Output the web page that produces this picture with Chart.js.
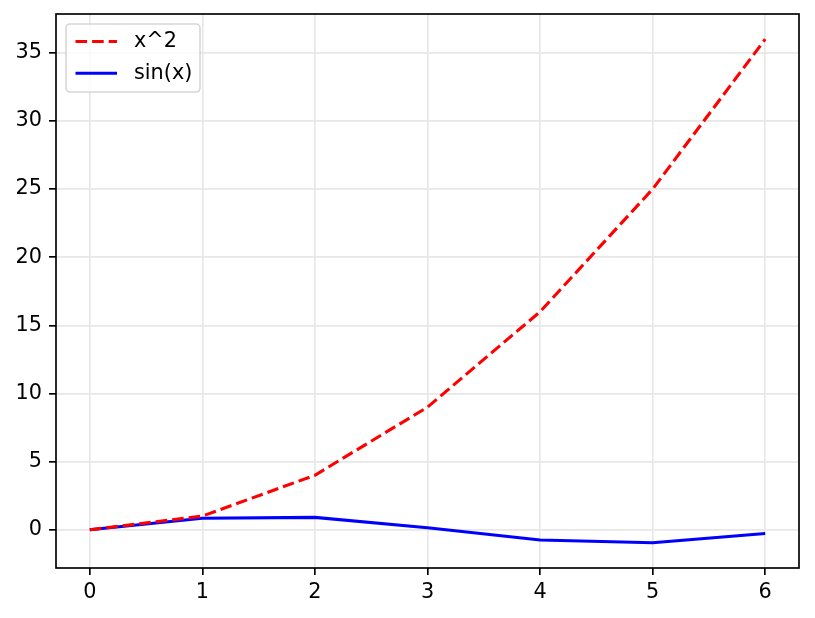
<!DOCTYPE html>
<html>
<head>
<meta charset="utf-8">
<script src="https://cdn.jsdelivr.net/npm/chart.js@4"></script>
<style>
  body { margin: 0; background: #fff; }
</style>
</head>
<body>
<canvas id="curveChart" width="815" height="618"></canvas>
<script>
// values
const xValues = [0, 1, 2, 3, 4, 5, 6];
const squareValues = [0, 1, 4, 9, 16, 25, 36];
const sineValues = [0, 0.841, 0.909, 0.141, -0.757, -0.959, -0.279];

const xTicks = [0, 1, 2, 3, 4, 5, 6];
const yTicks = [0, 5, 10, 15, 20, 25, 30, 35];

const seriesLabels = ["x^2", "sin(x)"];
const seriesColors = ["#ff0000", "#0000ff"];

const fontSize = 20.8;
const fontFamily = "'DejaVu Sans', sans-serif";

function toPoints(ys) {
    return xValues.map((x, i) => ({ x: x, y: ys[i] }));
}

// frame around the plot area, like the four spines
const framePlugin = {
    id: "frame",
    afterDatasetsDraw(chart) {
        let ctx = chart.ctx;
        let a = chart.chartArea;
        ctx.save();
        ctx.strokeStyle = "#000";
        ctx.lineWidth = 1.67;
        ctx.strokeRect(a.left, a.top, a.right - a.left, a.bottom - a.top);
        ctx.restore();
    }
};

// legend box in the upper left corner of the plot
const cornerLegend = {
    id: "cornerLegend",
    afterDraw(chart) {
        let ctx = chart.ctx;
        let a = chart.chartArea;
        let boxX = a.left + 10, boxY = a.top + 10, boxW = 134, boxH = 68;
        ctx.save();
        ctx.beginPath();
        ctx.roundRect(boxX, boxY, boxW, boxH, 4);
        ctx.fillStyle = "rgba(255,255,255,0.8)";
        ctx.fill();
        ctx.strokeStyle = "rgba(204,204,204,0.8)";
        ctx.lineWidth = 1.6;
        ctx.stroke();

        chart.data.datasets.forEach(function(ds, i) {
            let rowY = boxY + 17.5 + i * 31.8;
            ctx.beginPath();
            ctx.setLineDash(ds.borderDash || []);
            ctx.strokeStyle = ds.borderColor;
            ctx.lineWidth = ds.borderWidth;
            ctx.moveTo(boxX + 9.5, rowY);
            ctx.lineTo(boxX + 51, rowY);
            ctx.stroke();
            ctx.setLineDash([]);
            ctx.fillStyle = "#000";
            ctx.font = fontSize + "px " + fontFamily;
            ctx.textBaseline = "middle";
            ctx.fillText(ds.label, boxX + 68, rowY);
        });
        ctx.restore();
    }
};

const axisGrid = {
    color: "#e7e7e7",
    lineWidth: 1.67,
    drawTicks: true,
    tickLength: 7,
    tickColor: "#000",
    tickWidth: 1.67
};

const chartConfig = {
    type: "line",
    data: {
        datasets: [
            {
                label: seriesLabels[0],
                data: toPoints(squareValues),
                borderColor: seriesColors[0],
                borderWidth: 3.1,
                borderDash: [11.6, 5],
                pointRadius: 0,
                tension: 0,
                fill: false
            },
            {
                label: seriesLabels[1],
                data: toPoints(sineValues),
                borderColor: seriesColors[1],
                borderWidth: 3.1,
                pointRadius: 0,
                tension: 0,
                fill: false
            }
        ]
    },
    options: {
        responsive: false,
        animation: false,
        devicePixelRatio: 1,
        layout: { padding: { left: 0, top: 14, right: 16, bottom: 0 } },
        plugins: {
            legend: { display: false },
            tooltip: { enabled: false }
        },
        scales: {
            x: {
                type: "linear",
                min: -0.3,
                max: 6.3,
                afterBuildTicks: function(scale) {
                    scale.ticks = xTicks.map(v => ({ value: v }));
                },
                afterFit: function(scale) {
                    scale.height = 50;
                    scale.paddingLeft = 0;
                    scale.paddingRight = 0;
                },
                grid: axisGrid,
                border: { display: false },
                ticks: {
                    color: "#000",
                    font: { family: fontFamily, size: fontSize },
                    padding: 5,
                    maxRotation: 0,
                    callback: v => String(v)
                }
            },
            y: {
                type: "linear",
                min: -2.808,
                max: 37.848,
                afterBuildTicks: function(scale) {
                    scale.ticks = yTicks.map(v => ({ value: v }));
                },
                afterFit: function(scale) {
                    scale.width = 56;
                    scale.paddingTop = 0;
                    scale.paddingBottom = 0;
                },
                grid: axisGrid,
                border: { display: false },
                ticks: {
                    color: "#000",
                    font: { family: fontFamily, size: fontSize },
                    padding: 7,
                    callback: v => String(v)
                }
            }
        }
    },
    plugins: [framePlugin, cornerLegend]
};

new Chart(document.getElementById("curveChart"), chartConfig);
</script>
</body>
</html>
